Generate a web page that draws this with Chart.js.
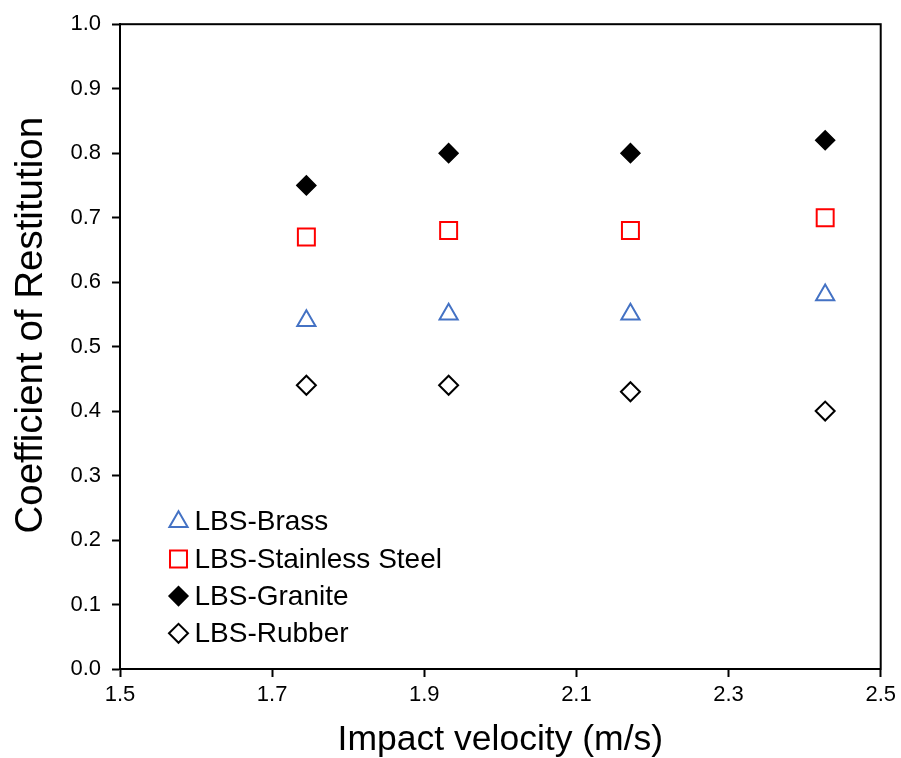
<!DOCTYPE html>
<html>
<head>
<meta charset="utf-8">
<script src="https://cdn.jsdelivr.net/npm/chart.js@4/dist/chart.umd.min.js"></script>
<style>
  html, body { margin: 0; padding: 0; background: #fff; }
  #wrap { width: 901px; height: 758px; }
</style>
</head>
<body>
<div id="wrap"><canvas id="cor" width="901" height="758"></canvas></div>
<script>
// impact velocity (m/s) for the four drop heights
const velocity = [1.745, 1.932, 2.171, 2.427];

// coefficient of restitution per target material
const brass = [0.54, 0.55, 0.55, 0.58];
const stainless = [0.67, 0.68, 0.68, 0.70];
const granite = [0.75, 0.80, 0.80, 0.82];
const rubber = [0.44, 0.44, 0.43, 0.40];

const seriesNames = ['LBS-Brass', 'LBS-Stainless Steel', 'LBS-Granite', 'LBS-Rubber'];

const xTicks = [1.5, 1.7, 1.9, 2.1, 2.3, 2.5];
const yTicks = [0.0, 0.1, 0.2, 0.3, 0.4, 0.5, 0.6, 0.7, 0.8, 0.9, 1.0];

const FONT = "'Liberation Sans', Arial, sans-serif";

function toPoints(ys) {
  return velocity.map((v, i) => ({ x: v, y: ys[i] }));
}

// box round the plot (top and right sides too) + legend drawn inside the plot area
const framePlugin = {
  id: 'frame',
  afterDraw(chart) {
    const { ctx, chartArea: a } = chart;
    ctx.save();
    ctx.strokeStyle = '#000';
    ctx.lineWidth = 2;
    ctx.strokeRect(a.left, a.top, a.right - a.left, a.bottom - a.top);

    // legend, lower left corner
    const rowGap = 37.2;
    const n = chart.data.datasets.length;
    chart.data.datasets.forEach((ds, i) => {
      const cy = a.bottom - 35.7 - (n - 1 - i) * rowGap;
      const mx = a.left + 58.5;
      ctx.fillStyle = ds.pointBackgroundColor;
      ctx.strokeStyle = ds.pointBorderColor;
      ctx.lineWidth = ds.pointBorderWidth;
      if (Chart.helpers && Chart.helpers.drawPoint) {
        Chart.helpers.drawPoint(ctx, {
          pointStyle: ds.pointStyle,
          radius: ds.pointRadius,
          rotation: 0,
          borderWidth: ds.pointBorderWidth
        }, mx, cy);
      }
      ctx.fillStyle = '#000';
      ctx.font = '28px ' + FONT;
      ctx.textBaseline = 'middle';
      ctx.textAlign = 'left';
      ctx.fillText(ds.label, a.left + 74.5, cy + 1);
    });
    ctx.restore();
  }
};

const ctx = document.getElementById('cor').getContext('2d');

new Chart(ctx, {
  type: 'scatter',
  data: {
    datasets: [
      {
        label: seriesNames[0],
        data: toPoints(brass),
        pointStyle: 'triangle',
        pointRadius: 10.5,
        pointBackgroundColor: 'rgba(0,0,0,0)',
        pointBorderColor: '#4472C4',
        pointBorderWidth: 2
      },
      {
        label: seriesNames[1],
        data: toPoints(stainless),
        pointStyle: 'rect',
        pointRadius: 12,
        pointBackgroundColor: 'rgba(0,0,0,0)',
        pointBorderColor: '#FF0000',
        pointBorderWidth: 2
      },
      {
        label: seriesNames[2],
        data: toPoints(granite),
        pointStyle: 'rectRot',
        pointRadius: 9.5,
        pointBackgroundColor: '#000',
        pointBorderColor: '#000',
        pointBorderWidth: 1.5
      },
      {
        label: seriesNames[3],
        data: toPoints(rubber),
        pointStyle: 'rectRot',
        pointRadius: 9.5,
        pointBackgroundColor: 'rgba(0,0,0,0)',
        pointBorderColor: '#000',
        pointBorderWidth: 2
      }
    ]
  },
  options: {
    responsive: false,
    animation: false,
    events: [],
    layout: { padding: { top: 21, right: 20, left: 0, bottom: 0 } },
    plugins: {
      legend: { display: false },
      tooltip: { enabled: false }
    },
    scales: {
      x: {
        type: 'linear',
        min: xTicks[0],
        max: xTicks[xTicks.length - 1],
        afterBuildTicks: (scale) => { scale.ticks = xTicks.map(v => ({ value: v })); },
        afterFit: (scale) => { scale.height = 89; },
        border: { display: true, color: '#000', width: 2 },
        grid: {
          drawOnChartArea: false,
          drawTicks: true,
          tickLength: 8,
          tickWidth: 2,
          tickColor: '#000'
        },
        ticks: {
          color: '#000',
          padding: 5,
          maxRotation: 0,
          font: { family: FONT, size: 22 },
          callback: (v) => Number(v).toFixed(1)
        },
        title: {
          display: true,
          text: 'Impact velocity (m/s)',
          color: '#000',
          padding: { top: 0, bottom: 0 },
          font: { family: FONT, size: 35.5, lineHeight: 1 }
        }
      },
      y: {
        type: 'linear',
        min: yTicks[0],
        max: yTicks[yTicks.length - 1],
        afterBuildTicks: (scale) => { scale.ticks = yTicks.map(v => ({ value: v })); },
        afterFit: (scale) => { scale.width = 120; },
        border: { display: true, color: '#000', width: 2 },
        grid: {
          drawOnChartArea: false,
          drawTicks: true,
          tickLength: 8,
          tickWidth: 2,
          tickColor: '#000'
        },
        ticks: {
          color: '#000',
          padding: 11,
          font: { family: FONT, size: 22 },
          callback: (v) => Number(v).toFixed(1)
        },
        title: {
          display: true,
          // leading spaces nudge the rotated title up, as in the original figure
          text: '    Coefficient of Restitution',
          color: '#000',
          padding: { top: 8, bottom: 0 },
          font: { family: FONT, size: 38.5, lineHeight: 1.2 }
        }
      }
    }
  },
  plugins: [framePlugin]
});
</script>
</body>
</html>
